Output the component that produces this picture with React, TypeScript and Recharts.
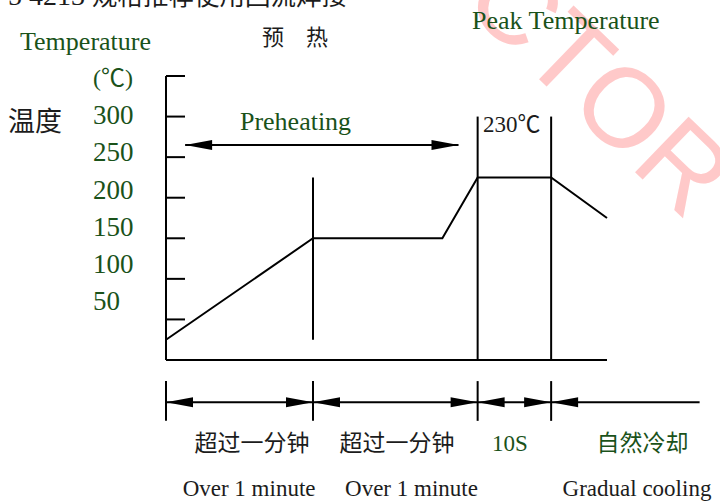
import React from "react";
import {
  ComposedChart,
  Line,
  XAxis,
  YAxis,
  ReferenceLine,
  ReferenceDot,
} from "recharts";

// reflow profile: x in arbitrary time units, y in °C
const profileTime = [0, 100, 188, 212, 262, 300];
const profileTemp = [25, 150, 150, 225, 225, 175];

const axisTicks = [50, 100, 150, 200, 250, 300, 350];
const axisLabels = [350, 300, 250, 200, 150, 100, 50]; // top slot shows the unit
const stageBounds = [0, 100, 212, 262];
const coolingEnd = 363;
const preheatSpan = [13, 199];
const peakTemp = 230;

const stageCn = ["超过一分钟", "超过一分钟", "10S", "自然冷却"];
const stageEn = ["Over 1 minute", "Over 1 minute", "Gradual cooling"];

const GREEN = "#1a521a";
const INK = "#1c1c1c";
const SERIF = "'Liberation Serif', 'Noto Sans CJK SC', serif";

const profile = profileTime.map((t, i) => ({ t, temp: profileTemp[i] }));

function note(key: string, x: number, y: number, text: any, opts: any = {}) {
  const { size = 24, color = INK, anchor = "start" } = opts;
  return (
    <ReferenceDot
      key={key}
      x={x}
      y={y}
      r={0}
      ifOverflow="visible"
      shape={(p: any) => (
        <text x={p.cx} y={p.cy} fontSize={size} fill={color} textAnchor={anchor} fontFamily={SERIF}>
          {text}
        </text>
      )}
    />
  );
}

const arrow = (left: boolean, right: boolean) => (p: any) => {
  const { x1, y1, x2, y2 } = p;
  const len = 27;
  const half = 5;
  return (
    <g>
      <line x1={x1} y1={y1} x2={x2} y2={y2} stroke="#000" strokeWidth={2} />
      {left && (
        <polygon points={`${x1},${y1} ${x1 + len},${y1 - half} ${x1 + len},${y1 + half}`} fill="#000" />
      )}
      {right && (
        <polygon points={`${x2},${y2} ${x2 - len},${y2 - half} ${x2 - len},${y2 + half}`} fill="#000" />
      )}
    </g>
  );
};

const LabelTick = (p: any) => {
  const v = p.payload.value;
  const unit = v === 350;
  return (
    <text
      x={p.x}
      y={p.y}
      dy="0.34em"
      textAnchor="start"
      fill={GREEN}
      fontSize={unit ? 24 : 27}
      fontFamily={SERIF}
    >
      {unit ? "(℃)" : v}
    </text>
  );
};

export default function App() {
  const stageEnds = [...stageBounds.slice(1), coolingEnd];
  return (
    <div style={{ position: "absolute", left: 0, top: 0, width: 720, height: 501, background: "#fff" }}>
      <ComposedChart
        width={720}
        height={501}
        data={profile}
        margin={{ top: 76, right: 113, bottom: 140, left: 93 }}
      >
        <XAxis
          dataKey="t"
          type="number"
          domain={[0, 300]}
          height={1}
          tick={false}
          tickLine={false}
          axisLine={{ stroke: "#000", strokeWidth: 2 }}
        />
        <YAxis
          type="number"
          domain={[0, 350]}
          ticks={axisTicks}
          width={20}
          mirror
          tickSize={19}
          tick={() => <g />}
          tickLine={{ stroke: "#000", strokeWidth: 2 }}
          axisLine={{ stroke: "#000", strokeWidth: 2 }}
        />
        <YAxis
          yAxisId="lbl"
          type="number"
          domain={[-28.9, 352.3]}
          allowDataOverflow
          ticks={axisLabels}
          interval={0}
          width={73}
          tickSize={0}
          tickMargin={73}
          axisLine={false}
          tickLine={false}
          tick={(p: any) => <LabelTick {...p} />}
        />

        {/* watermark */}
        <ReferenceDot
          x={200}
          y={440}
          r={0}
          ifOverflow="visible"
          shape={(p: any) => (
            <text
              x={p.cx}
              y={p.cy}
              fontSize={112}
              fill="#ffc9c9"
              fontFamily="'Liberation Sans', sans-serif"
              transform={`rotate(44 ${p.cx} ${p.cy})`}
            >
              CTOR
            </text>
          )}
        />

        <Line
          dataKey="temp"
          type="linear"
          stroke="#000"
          strokeWidth={2}
          dot={false}
          isAnimationActive={false}
        />

        {/* phase boundaries */}
        <ReferenceLine
          segment={[{ x: stageBounds[1], y: 25 }, { x: stageBounds[1], y: 225 }]}
          stroke="#000"
          strokeWidth={2}
          ifOverflow="visible"
        />
        {stageBounds.slice(2).map((b) => (
          <ReferenceLine
            key={`v${b}`}
            segment={[{ x: b, y: 0 }, { x: b, y: 300 }]}
            stroke="#000"
            strokeWidth={2}
            ifOverflow="visible"
          />
        ))}

        {/* preheating arrow */}
        <ReferenceLine
          segment={[{ x: preheatSpan[0], y: 265 }, { x: preheatSpan[1], y: 265 }]}
          ifOverflow="visible"
          shape={arrow(true, true)}
        />

        {/* time dimension marks */}
        {stageBounds.map((b) => (
          <ReferenceLine
            key={`d${b}`}
            segment={[{ x: b, y: -26 }, { x: b, y: -75 }]}
            stroke="#000"
            strokeWidth={2}
            ifOverflow="visible"
          />
        ))}
        {stageBounds.map((b, i) => (
          <ReferenceLine
            key={`a${b}`}
            segment={[{ x: b, y: -52 }, { x: stageEnds[i], y: -52 }]}
            ifOverflow="visible"
            shape={arrow(true, i < stageBounds.length - 1)}
          />
        ))}

        {note(
          "title",
          -107.5,
          437.5,
          <>
            <tspan fontSize={28}>5  4213 </tspan>
            <tspan fontSize={25.5}>规格推荐使用回流焊接</tspan>
          </>,
          { size: 26 }
        )}
        {note("tempEn", -99.3, 382.1, "Temperature", { size: 26, color: GREEN })}
        {note("preCn", 87.8, 388.2, "预　热", { size: 22, anchor: "middle" })}
        {note("peakEn", 208.2, 407.9, "Peak Temperature", { size: 26, color: GREEN })}
        {note("tempCn", -107.5, 282.2, "温度", { size: 27 })}
        {note("preEn", 50.3, 283.5, "Preheating", { size: 26, color: GREEN })}
        {note("peak", 215.6, 281.6, `${peakTemp}℃`, { size: 23 })}

        {note("cn0", 58.5, -112.2, stageCn[0], { size: 23, anchor: "middle" })}
        {note("cn1", 157.1, -112.2, stageCn[1], { size: 23, anchor: "middle" })}
        {note("cn2", 234, -112.2, stageCn[2], { size: 23, anchor: "middle", color: GREEN })}
        {note("cn3", 324.1, -112.2, stageCn[3], { size: 23, anchor: "middle", color: GREEN })}
        {note("en0", 56.5, -167.6, stageEn[0], { size: 23, anchor: "middle" })}
        {note("en1", 167, -167.6, stageEn[1], { size: 23, anchor: "middle" })}
        {note("en2", 320.4, -167.6, stageEn[2], { size: 23, anchor: "middle" })}
      </ComposedChart>
    </div>
  );
}
